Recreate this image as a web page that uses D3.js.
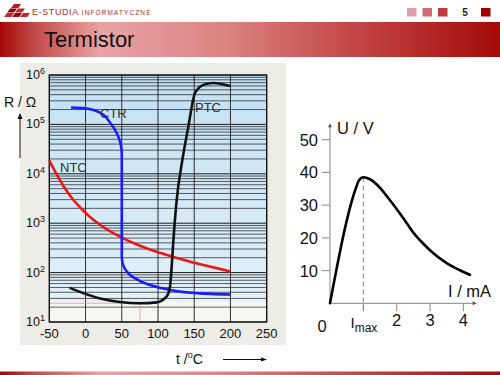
<!DOCTYPE html>
<html lang="en">
<head>
<meta charset="utf-8">
<title>Termistor</title>
<script src="https://cdn.jsdelivr.net/npm/d3@7"></script>
<style>
  body { margin: 0; background: #fff; }
  text { font-family: "Liberation Sans", Arial, sans-serif; }
</style>
</head>
<body>
<div id="vizContainer"></div>
<script>
// ---------- data ----------
// left chart: R(t) on a log axis
var tempTicks = [-50, 0, 50, 100, 150, 200, 250];
var resExponents = [1, 2, 3, 4, 5, 6];

var ntcT = [-50, -40, -30, -20, -10, 0, 20, 50, 75, 100, 125, 150, 175, 200];
var ntcR = [18600, 9800, 5500, 3400, 2300, 1620, 930, 510, 350, 257, 200, 158, 129, 105];

var ctrT = [-20, 2, 20, 34, 43, 48.5, 50, 50, 52, 57, 66, 89, 112, 158, 200];
var ctrR = [220000, 210000, 173000, 108000, 67000, 40000, 25000, 210, 140, 105, 80, 56, 46, 38, 36];

var ptcT = [-22, 20, 75, 98, 112, 116.5, 119, 121, 123, 126, 132.7, 141.8, 151, 162.5, 176, 199.5];
var ptcR = [49, 30, 24, 25, 33, 51, 141, 400, 1000, 3160, 15800, 89000, 427000, 630000, 690000, 600000];

// right chart: U(I)
var currentI = [0, 0.77, 0.86, 1.0, 1.2, 1.5, 1.8, 2.2, 2.5, 2.8, 3.1, 3.5, 3.9, 4.2];
var voltageU = [0, 35, 37.4, 38.5, 37.9, 35.3, 31.5, 26, 21.6, 18.2, 15.3, 12.3, 10.1, 8.7];
var uTicks = [10, 20, 30, 40, 50];
var iTicks = [1, 2, 3, 4];
var iTickLabels = ["max", "2", "3", "4"];

var width = 500, height = 375;
var svg = d3.select("#vizContainer").append("svg")
  .attr("width", width)
  .attr("height", height);

var defs = svg.append("defs");

// ---------- header ----------
var barGrad = defs.append("linearGradient").attr("id", "barGrad");
[[0, "#a30808"], [0.07, "#c44b4b"], [0.2, "#e9a3a3"], [0.45, "#dc8383"], [0.7, "#c44848"], [1, "#a40a0a"]]
  .forEach(function(s) { barGrad.append("stop").attr("offset", s[0]).attr("stop-color", s[1]); });

svg.append("rect").attr("x", 0).attr("y", 22).attr("width", width).attr("height", 35).attr("fill", "url(#barGrad)");
svg.append("rect").attr("x", 0).attr("y", 371.5).attr("width", width).attr("height", 3.5).attr("fill", "url(#barGrad)");

svg.append("text").attr("x", 44).attr("y", 47)
  .attr("font-size", 22).attr("fill", "#111").text("Termistor");

// logo
var logo = svg.append("g").attr("transform", "translate(7,4)");
[[7, 0, "#b01c20"], [3, 4.5, "#8c0a0a"], [11, 4.5, "#c0282d"], [0, 9, "#c0282d"], [8, 9, "#8c0a0a"], [16, 9, "#c0282d"]]
  .forEach(function(p) {
    logo.append("rect").attr("x", p[0]).attr("y", p[1]).attr("width", 7).attr("height", 4)
      .attr("fill", p[2]).attr("transform", "skewX(-35)translate(" + (p[1] * 0.7) + ",0)");
  });

var brand = svg.append("text").attr("x", 32).attr("y", 15).attr("fill", "#c0282d");
brand.append("tspan").attr("font-size", 9).attr("letter-spacing", 0.6).text("E-STUDIA");
brand.append("tspan").attr("font-size", 6.5).attr("letter-spacing", 1.1).attr("dx", 3).text("INFORMATYCZNE");

[[407, "#e0a0a5"], [422.5, "#d06b72"], [438, "#c33a43"], [481, "#a50000"]].forEach(function(s) {
  svg.append("rect").attr("x", s[0]).attr("y", 8).attr("width", 9.5).attr("height", 8.5).attr("fill", s[1]);
});
svg.append("text").attr("x", 465).attr("y", 16).attr("text-anchor", "middle")
  .attr("font-size", 10).attr("font-weight", "bold").attr("fill", "#222").text("5");

// ---------- left chart ----------
var xT = d3.scaleLinear().domain([-50, 250]).range([49.3, 266.7]);
var yR = d3.scaleLog().domain([10, 1e6]).range([322, 75]);

svg.append("rect").attr("x", 20).attr("y", 63).attr("width", 266).attr("height", 282).attr("fill", "#edece6");

var blueGrad = defs.append("linearGradient").attr("id", "blueGrad")
  .attr("x1", 0).attr("y1", 0).attr("x2", 0).attr("y2", 1);
blueGrad.append("stop").attr("offset", 0).attr("stop-color", "#c2e0f4");
blueGrad.append("stop").attr("offset", 1).attr("stop-color", "#e2f0f8");

svg.append("rect").attr("x", xT(-50)).attr("y", yR(1e6))
  .attr("width", xT(250) - xT(-50)).attr("height", yR(10) - yR(1e6)).attr("fill", "#f6f6f2");
svg.append("rect").attr("x", xT(-50)).attr("y", yR(1e6))
  .attr("width", xT(250) - xT(-50)).attr("height", yR(26) - yR(1e6)).attr("fill", "url(#blueGrad)");

// grid
var gridVals = [];
resExponents.slice(0, -1).forEach(function(e) {
  for (var m = 1; m < 10; m++) gridVals.push(m * Math.pow(10, e));
});
gridVals.push(1e6);
svg.append("g").selectAll("line").data(gridVals).enter().append("line")
  .attr("x1", xT(-50)).attr("x2", xT(250))
  .attr("y1", function(d) { return yR(d); }).attr("y2", function(d) { return yR(d); })
  .attr("stroke", "#1a1a1a").attr("stroke-width", function(d) {
    return Math.abs(Math.log10(d) - Math.round(Math.log10(d))) < 1e-9 ? 1 : 0.7;
  });
svg.append("g").selectAll("line").data(tempTicks).enter().append("line")
  .attr("x1", function(d) { return xT(d); }).attr("x2", function(d) { return xT(d); })
  .attr("y1", yR(1e6)).attr("y2", yR(10))
  .attr("stroke", "#1a1a1a").attr("stroke-width", 0.9);

// faint pink marking lines from the scan
svg.append("path")
  .attr("d", "M" + xT(-50) + "," + yR(24) + "H" + xT(75) + "V" + yR(10))
  .attr("fill", "none").attr("stroke", "#f08aa8").attr("stroke-width", 0.8);

svg.append("rect").attr("x", xT(-50)).attr("y", yR(1e6))
  .attr("width", xT(250) - xT(-50)).attr("height", yR(10) - yR(1e6))
  .attr("fill", "none").attr("stroke", "#111").attr("stroke-width", 1.2);

// tick labels
svg.append("g").selectAll("text").data(tempTicks).enter().append("text")
  .attr("x", function(d) { return xT(d); }).attr("y", 338)
  .attr("text-anchor", "middle").attr("font-size", 13).attr("fill", "#111")
  .text(function(d) { return d; });

var yl = svg.append("g").selectAll("text").data(resExponents).enter().append("text")
  .attr("x", 45).attr("y", function(d) { return yR(Math.pow(10, d)) + 4; })
  .attr("text-anchor", "end").attr("font-size", 12.5).attr("fill", "#111");
yl.append("tspan").text("10");
yl.append("tspan").attr("dy", -5).attr("font-size", 9).text(function(d) { return d; });

// axis titles
svg.append("text").attr("x", 4).attr("y", 107).attr("font-size", 14).attr("fill", "#111").text("R / \u03a9");
svg.append("line").attr("x1", 20).attr("x2", 20).attr("y1", 158).attr("y2", 117)
  .attr("stroke", "#111").attr("stroke-width", 1);
svg.append("path").attr("d", "M17.5,119L20,113L22.5,119Z").attr("fill", "#111");

var tl = svg.append("text").attr("x", 176).attr("y", 364).attr("font-size", 14).attr("fill", "#111");
tl.append("tspan").text("t /");
tl.append("tspan").attr("dy", -6).attr("font-size", 9).text("o");
tl.append("tspan").attr("dy", 6).text("C");
svg.append("line").attr("x1", 223).attr("x2", 262).attr("y1", 359.5).attr("y2", 359.5)
  .attr("stroke", "#111").attr("stroke-width", 1);
svg.append("path").attr("d", "M261,357.5L267,359.5L261,361.5Z").attr("fill", "#111");

// curves
function pairs(a, b) { return a.map(function(v, i) { return [v, b[i]]; }); }
function lineTR(curve) {
  return d3.line()
    .x(function(d) { return xT(d[0]); })
    .y(function(d) { return yR(d[1]); })
    .curve(curve);
}

svg.append("path").datum(pairs(ntcT, ntcR)).attr("d", lineTR(d3.curveMonotoneX))
  .attr("fill", "none").attr("stroke", "#f01414").attr("stroke-width", 2.6);
svg.append("path").datum(pairs(ctrT, ctrR)).attr("d", lineTR(d3.curveMonotoneY))
  .attr("fill", "none").attr("stroke", "#1a1aff").attr("stroke-width", 2.6);
svg.append("path").datum(pairs(ptcT, ptcR)).attr("d", lineTR(d3.curveMonotoneX))
  .attr("fill", "none").attr("stroke", "#111").attr("stroke-width", 2.6);

svg.append("text").attr("x", 100).attr("y", 118).attr("font-size", 13).attr("fill", "#333").text("CTR");
svg.append("text").attr("x", 60).attr("y", 172).attr("font-size", 13).attr("fill", "#333").text("NTC");
svg.append("text").attr("x", 195).attr("y", 112).attr("font-size", 13).attr("fill", "#333").text("PTC");

// ---------- right chart ----------
var xI = d3.scaleLinear().domain([0, 4.4]).range([330, 476.7]);
var yU = d3.scaleLinear().domain([0, 55]).range([303.3, 123.3]);
var axisCol = "#9a9a9a";

svg.append("line").attr("x1", xI(0)).attr("x2", xI(0)).attr("y1", yU(0)).attr("y2", yU(55) + 3)
  .attr("stroke", axisCol).attr("stroke-width", 1.2);
svg.append("path").attr("d", "M" + (xI(0) - 2) + "," + (yU(55) + 4) + "L" + xI(0) + "," + yU(55) + "L" + (xI(0) + 2) + "," + (yU(55) + 4) + "Z")
  .attr("fill", "#555");
svg.append("line").attr("x1", xI(0)).attr("x2", xI(4.4) - 3).attr("y1", yU(0)).attr("y2", yU(0))
  .attr("stroke", axisCol).attr("stroke-width", 1.2);
svg.append("path").attr("d", "M" + (xI(4.4) - 4) + "," + (yU(0) - 2) + "L" + xI(4.4) + "," + yU(0) + "L" + (xI(4.4) - 4) + "," + (yU(0) + 2) + "Z")
  .attr("fill", "#555");

svg.append("g").selectAll("line").data(uTicks).enter().append("line")
  .attr("x1", xI(0) - 8).attr("x2", xI(0))
  .attr("y1", function(d) { return yU(d); }).attr("y2", function(d) { return yU(d); })
  .attr("stroke", axisCol).attr("stroke-width", 1.2);
svg.append("g").selectAll("text").data(uTicks).enter().append("text")
  .attr("x", 318).attr("y", function(d) { return yU(d) + 6; })
  .attr("text-anchor", "end").attr("font-size", 16.5).attr("fill", "#111")
  .text(function(d) { return d; });

svg.append("g").selectAll("line").data(iTicks).enter().append("line")
  .attr("x1", function(d) { return xI(d); }).attr("x2", function(d) { return xI(d); })
  .attr("y1", yU(0)).attr("y2", yU(0) + 8)
  .attr("stroke", axisCol).attr("stroke-width", 1.2);
svg.append("g").selectAll("text").data(iTicks.slice(1)).enter().append("text")
  .attr("x", function(d) { return xI(d); }).attr("y", 326)
  .attr("text-anchor", "middle").attr("font-size", 16.5).attr("fill", "#111")
  .text(function(d, i) { return iTickLabels[i + 1]; });

var imax = svg.append("text").attr("x", 350.5).attr("y", 328).attr("font-size", 15).attr("fill", "#111");
imax.append("tspan").text("I");
imax.append("tspan").attr("dy", 3.5).attr("font-size", 12).text(iTickLabels[0]);

svg.append("text").attr("x", 322).attr("y", 332).attr("text-anchor", "middle")
  .attr("font-size", 16.5).attr("fill", "#111").text("0");

svg.append("text").attr("x", 337).attr("y", 134).attr("font-size", 16.5).attr("fill", "#111").text("U / V");
svg.append("text").attr("x", 448).attr("y", 297).attr("font-size", 16.5).attr("fill", "#111").text("I / mA");

// dashed line at I max
var peakIdx = d3.maxIndex(voltageU);
svg.append("line").attr("x1", xI(currentI[peakIdx])).attr("x2", xI(currentI[peakIdx]))
  .attr("y1", yU(voltageU[peakIdx])).attr("y2", yU(0) + 8)
  .attr("stroke", "#888").attr("stroke-width", 1).attr("stroke-dasharray", "5,3");

var lineIU = d3.line()
  .x(function(d) { return xI(d[0]); })
  .y(function(d) { return yU(d[1]); })
  .curve(d3.curveMonotoneX);
svg.append("path").datum(pairs(currentI, voltageU)).attr("d", lineIU)
  .attr("fill", "none").attr("stroke", "#000").attr("stroke-width", 2.6)
  .attr("stroke-linecap", "round");
</script>
</body>
</html>
